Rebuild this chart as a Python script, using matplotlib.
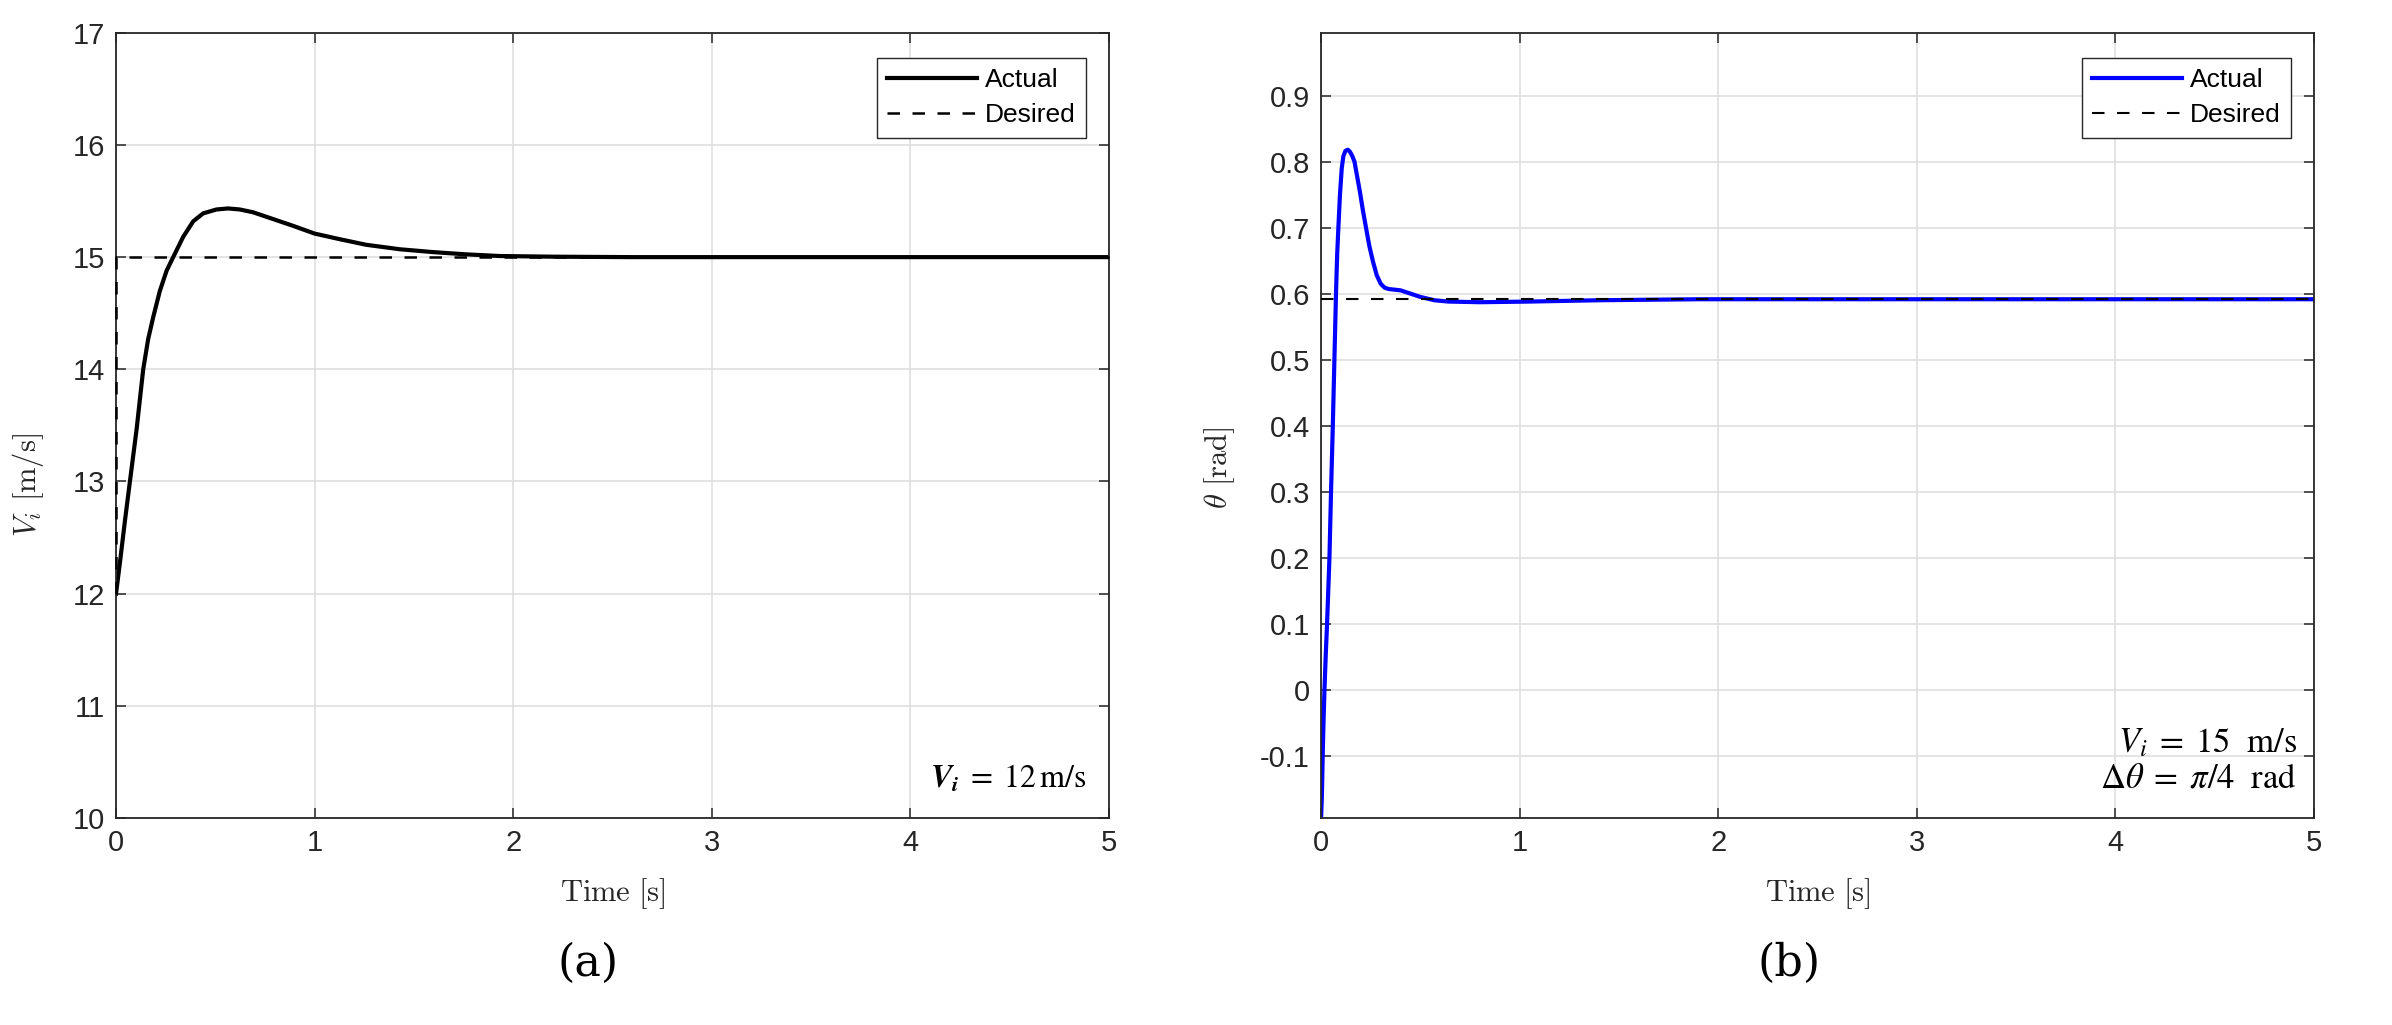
import matplotlib
matplotlib.use("Agg")
import matplotlib.pyplot as plt

plt.rcParams['font.family'] = ['Liberation Sans', 'DejaVu Sans']
plt.rcParams['mathtext.fontset'] = 'cm'

# (a) speed response
t_a = [0.00, 0.02, 0.045, 0.07, 0.104, 0.137, 0.162, 0.188, 0.221, 0.255, 0.288,
       0.338, 0.389, 0.439, 0.506, 0.565, 0.623, 0.69, 0.79, 0.89, 1.00, 1.126,
       1.26, 1.43, 1.595, 1.76, 1.93, 2.20, 2.60, 5.00]
v_actual = [12.00, 12.28, 12.65, 13.00, 13.47, 14.00, 14.27, 14.47, 14.70, 14.88,
            15.00, 15.18, 15.32, 15.39, 15.425, 15.434, 15.425, 15.40, 15.34, 15.28,
            15.21, 15.16, 15.11, 15.07, 15.045, 15.025, 15.01, 15.004, 15.0, 15.0]
t_a_des = [0.0, 0.0, 5.0]
v_desired = [12.0, 15.0, 15.0]

# (b) pitch response
t_b = [0.000, 0.004, 0.008, 0.012, 0.017, 0.023, 0.030, 0.036, 0.042, 0.050,
       0.059, 0.067, 0.075, 0.081, 0.087, 0.095, 0.104, 0.112, 0.122, 0.134,
       0.145, 0.156, 0.168, 0.18, 0.195, 0.21, 0.226, 0.243, 0.26, 0.28, 0.30,
       0.32, 0.34, 0.37, 0.40, 0.44, 0.50, 0.57, 0.64, 0.80, 1.05, 1.40, 1.90, 5.00]
th_actual = [-0.194, -0.16, -0.10, -0.05, 0.00, 0.05, 0.10, 0.15, 0.20, 0.30,
             0.40, 0.50, 0.60, 0.66, 0.70, 0.75, 0.79, 0.808, 0.816, 0.818,
             0.815, 0.809, 0.80, 0.78, 0.755, 0.727, 0.70, 0.672, 0.65, 0.628, 0.615,
             0.609, 0.607, 0.606, 0.605, 0.601, 0.595, 0.590, 0.588, 0.587, 0.588,
             0.590, 0.5915, 0.5915]
t_b_des = [0.0, 5.0]
th_desired = [0.5915, 0.5915]

yticks_a = [10, 11, 12, 13, 14, 15, 16, 17]
yticks_b = [-0.1, 0, 0.1, 0.2, 0.3, 0.4, 0.5, 0.6, 0.7, 0.8, 0.9]
ytick_labels_b = ['-0.1', '0', '0.1', '0.2', '0.3', '0.4', '0.5', '0.6', '0.7', '0.8', '0.9']
xticks = [0, 1, 2, 3, 4, 5]

axcol = '#262626'
gridcol = '#dfdfdf'

fig = plt.figure(figsize=(23.92, 10.25), dpi=100)
ax_a = fig.add_axes([0.0485, 0.202, 0.4151, 0.766])
ax_b = fig.add_axes([0.5523, 0.202, 0.4151, 0.766])


def style_axes(ax):
    ax.set_xlim(0, 5)
    ax.set_xticks(xticks)
    ax.grid(True, color=gridcol, linewidth=1.2)
    ax.set_axisbelow(True)
    for s in ax.spines.values():
        s.set_color(axcol)
        s.set_linewidth(1.3)
    ax.tick_params(direction='in', top=True, right=True, length=7, width=1.1,
                   colors=axcol, labelsize=21, pad=8)
    ax.set_xlabel(r'$\mathrm{Time\ [s]}$', fontsize=22, color=axcol)
    ax.xaxis.set_label_coords(0.5, -0.074)


def add_legend(ax):
    ax.legend(loc='upper right', bbox_to_anchor=(0.977, 0.968), borderaxespad=0,
              fontsize=19, handlelength=3.4, fancybox=False, framealpha=1,
              edgecolor=axcol, borderpad=0.4, labelspacing=0.4, handletextpad=0.3)


# panel a
ax_a.plot(t_a, v_actual, color='black', linewidth=3, label='Actual')
ax_a.plot(t_a_des, v_desired, color='black', linewidth=1.8, linestyle=(0, (5, 5)),
          label='Desired', zorder=4, clip_on=False)
ax_a.set_ylim(10, 17)
ax_a.set_yticks(yticks_a)
style_axes(ax_a)
ax_a.set_ylabel(r'$V_i\ \mathrm{[m/s]}$', fontsize=22, color=axcol)
ax_a.yaxis.set_label_coords(-0.071, 0.424)
add_legend(ax_a)
ax_a.text(0.977, 0.03, r'$\mathbfit{V_i}\;=\;12\,\mathrm{m/s}$', transform=ax_a.transAxes,
          ha='right', va='bottom', fontsize=23, math_fontfamily='stix')

# panel b
ax_b.plot(t_b, th_actual, color='blue', linewidth=3, label='Actual')
ax_b.plot(t_b_des, th_desired, color='black', linewidth=1.5, linestyle=(0, (6, 6)),
          label='Desired', zorder=4)
ax_b.set_ylim(-0.194, 0.995)
ax_b.set_yticks(yticks_b)
ax_b.set_yticklabels(ytick_labels_b)
style_axes(ax_b)
ax_b.set_ylabel(r'$\theta\ \mathrm{[rad]}$', fontsize=22, color=axcol)
ax_b.yaxis.set_label_coords(-0.085, 0.446)
add_legend(ax_b)
ax_b.text(0.983, 0.03,
          r'$V_i\;=\;15\ \ \mathrm{m/s}$' + '\n' + r'$\Delta\theta\;=\;\pi/4\ \ \mathrm{rad}$',
          transform=ax_b.transAxes, ha='right', va='bottom', fontsize=25,
          math_fontfamily='stix', multialignment='right', linespacing=1.1)

fig.text(0.2458, 0.0605, '(a)', ha='center', va='center', fontsize=32,
         family='DejaVu Serif')
fig.text(0.748, 0.0605, '(b)', ha='center', va='center', fontsize=32,
         family='DejaVu Serif')

fig.savefig('out.png', dpi=100)
